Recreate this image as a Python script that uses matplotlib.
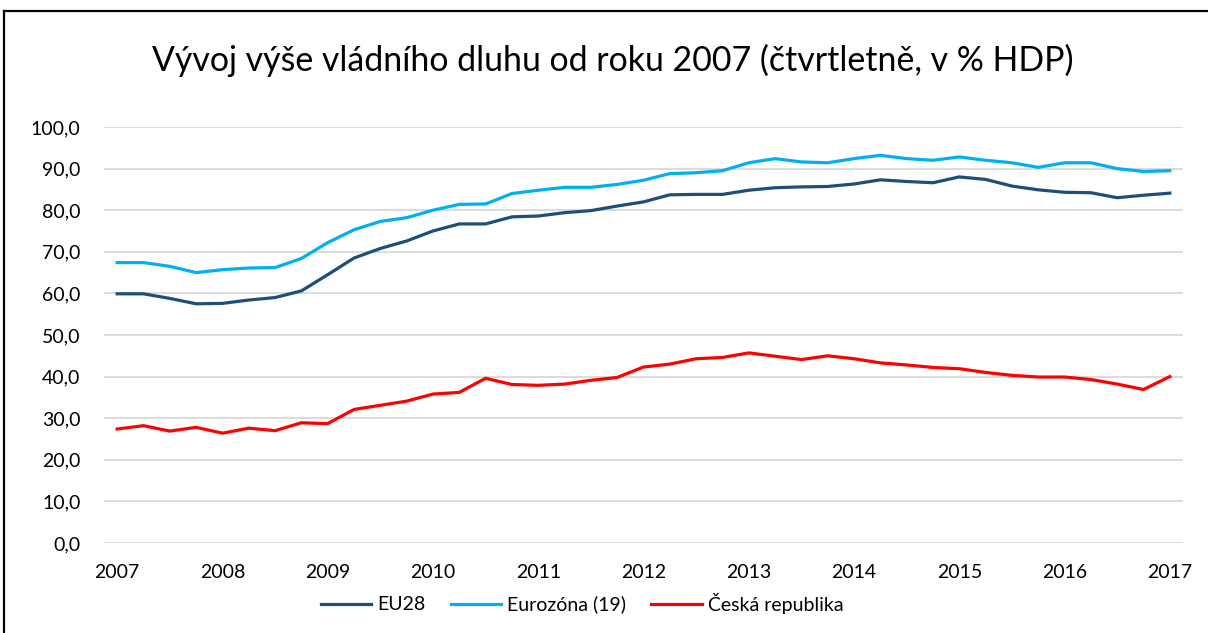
import matplotlib
matplotlib.use("Agg")
import matplotlib.pyplot as plt
from matplotlib.lines import Line2D

plt.rcParams['font.family'] = ['Lato', 'DejaVu Sans']

years = ["2007", "2008", "2009", "2010", "2011", "2012", "2013", "2014", "2015", "2016", "2017"]

eu28 = [59.9, 59.9, 58.8, 57.5, 57.6, 58.4, 59.0, 60.6, 64.5, 68.5,
        70.8, 72.6, 75.0, 76.7, 76.7, 78.4, 78.6, 79.4, 79.9, 81.0,
        82.0, 83.7, 83.8, 83.8, 84.8, 85.4, 85.6, 85.7, 86.3, 87.3,
        86.9, 86.6, 88.0, 87.4, 85.8, 84.9, 84.3, 84.2, 83.0, 83.6,
        84.1]

eurozona = [67.4, 67.4, 66.5, 65.0, 65.7, 66.1, 66.2, 68.4, 72.2, 75.3,
            77.3, 78.2, 80.0, 81.4, 81.5, 84.0, 84.8, 85.5, 85.5, 86.2,
            87.2, 88.8, 89.0, 89.5, 91.4, 92.4, 91.6, 91.4, 92.4, 93.2,
            92.4, 92.0, 92.8, 92.0, 91.4, 90.3, 91.4, 91.4, 90.0, 89.3,
            89.5]

cesko = [27.4, 28.2, 26.9, 27.8, 26.4, 27.6, 27.0, 28.9, 28.7, 32.1,
         33.1, 34.1, 35.8, 36.2, 39.6, 38.1, 37.9, 38.2, 39.1, 39.8,
         42.3, 43.0, 44.3, 44.6, 45.7, 44.9, 44.1, 45.0, 44.3, 43.3,
         42.8, 42.2, 41.9, 41.0, 40.3, 39.9, 39.9, 39.3, 38.2, 36.9,
         40.0]

series_names = ["EU28", "Eurozóna (19)", "Česká republika"]
colors = ["#1F4E79", "#00B0F0", "#FF0000"]

W, H = 1208, 633
fig = plt.figure(figsize=(W / 100, H / 100), dpi=100)
ax = fig.add_axes([104 / W, 1 - 543 / H, (1183 - 104) / W, (543 - 127) / H])

x = list(range(len(eu28)))
for vals, c, name in zip([eu28, eurozona, cesko], colors, series_names):
    ax.plot(x, vals, color=c, lw=2.3, label=name, solid_joinstyle='round', zorder=3)

ax.set_xlim(-0.5, len(eu28) - 0.5)
ax.set_ylim(0, 100)
ax.set_yticks(range(0, 101, 10))
ax.set_yticklabels([f"{v},0" for v in range(0, 101, 10)])
ax.set_xticks(range(0, len(eu28), 4))
ax.set_xticklabels(years)
ax.tick_params(axis='both', length=0, labelsize=14, colors='#000000')
ax.tick_params(axis='y', pad=17)
ax.tick_params(axis='x', pad=15)
ax.grid(axis='y', color='#D9D9D9', lw=1.3, zorder=0)
for s in ax.spines.values():
    s.set_visible(False)

fig.text(613 / W, 1 - 60 / H, "Vývoj výše vládního dluhu od roku 2007 (čtvrtletně, v % HDP)",
         ha='center', va='center', fontsize=24.4)

handles = [Line2D([], [], color=c, lw=2.3) for c in colors]
fig.legend(handles, series_names, loc='center', bbox_to_anchor=(582 / W, 1 - 603 / H),
           ncol=3, frameon=False, fontsize=14, handlelength=2.6, handletextpad=0.3,
           columnspacing=1.3)

# outer border (cut off at right and bottom)
fig.add_artist(Line2D([3.5 / W, 3.5 / W], [0, 1 - 10.5 / H], transform=fig.transFigure, color='#000000', lw=1.6))
fig.add_artist(Line2D([3.5 / W, 1], [1 - 10.5 / H, 1 - 10.5 / H], transform=fig.transFigure, color='#000000', lw=1.6))

fig.savefig("out.png", dpi=100)
